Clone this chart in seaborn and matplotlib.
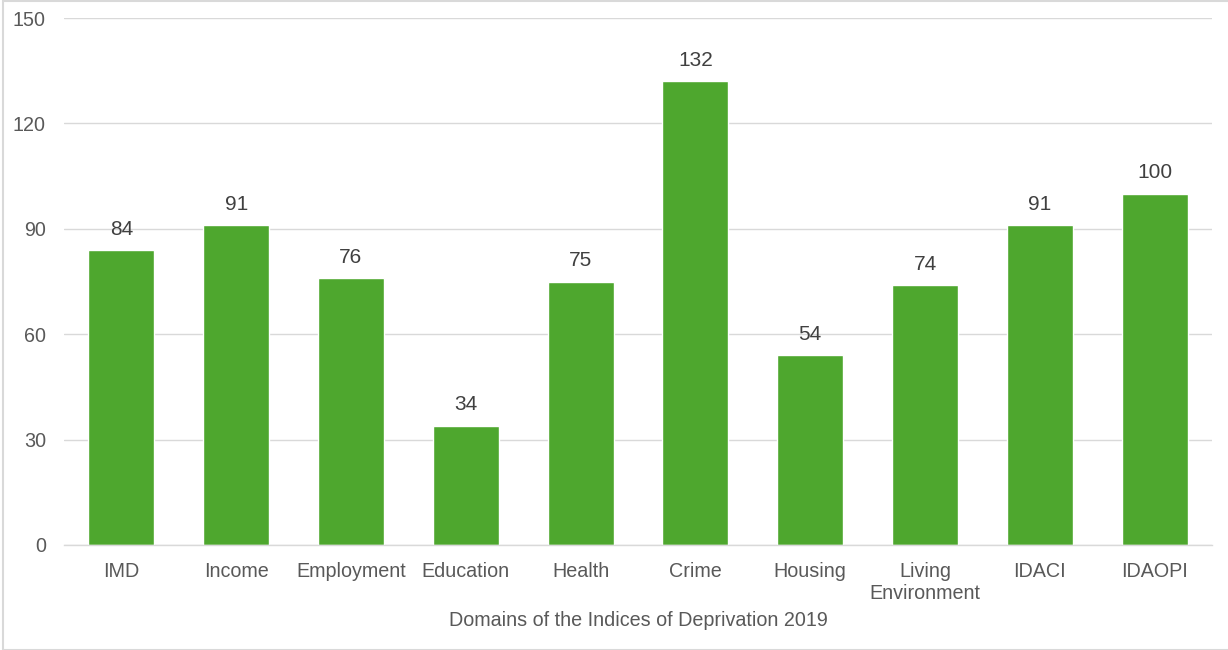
import matplotlib
matplotlib.use("Agg")
import matplotlib.pyplot as plt
import pandas as pd
import seaborn as sb

# Domains of deprivation, count per domain
domains = ["IMD", "Income", "Employment", "Education", "Health",
           "Crime", "Housing", "Living\nEnvironment", "IDACI", "IDAOPI"]
counts = [84, 91, 76, 34, 75, 132, 54, 74, 91, 100]
yticks = [0, 30, 60, 90, 120, 150]

df = pd.DataFrame({"domain": domains, "count": counts})

sb.set_style("white")
plt.rcParams["font.family"] = ["Liberation Sans", "DejaVu Sans"]

fig = plt.figure(figsize=(12.28, 6.5), dpi=100)
ax = fig.add_axes([64 / 1228, 1 - 545 / 650, (1212 - 64) / 1228, (545 - 18) / 650])

sb.barplot(data=df, x="domain", y="count", color="#4EA72E", saturation=1,
           width=0.575, ax=ax)

for i, v in enumerate(counts):
    ax.text(i, v + 3.2, str(v), ha="center", va="bottom",
            fontsize=15, color="#404040")

ax.set_ylim(0, 150)
ax.set_yticks(yticks)
ax.set_xlim(-0.5, len(domains) - 0.5)
ax.yaxis.grid(True, color="#D9D9D9", linewidth=1)
ax.set_axisbelow(True)
for s in ["top", "right", "left"]:
    ax.spines[s].set_visible(False)
ax.spines["bottom"].set_color("#D9D9D9")
ax.spines["bottom"].set_linewidth(1)
ax.tick_params(axis="both", length=0, labelsize=14.2, labelcolor="#595959")
ax.tick_params(axis="y", pad=13)
ax.tick_params(axis="x", pad=12)
ax.set_ylabel("")
ax.set_xlabel("Domains of the Indices of Deprivation 2019", fontsize=14.2,
              color="#595959", labelpad=6)

# light frame round the chart
fig.patches.append(plt.Rectangle((3 / 1228, 0), 1.2, 1 - 1 / 650,
                                 transform=fig.transFigure, fill=False,
                                 edgecolor="#D9D9D9", linewidth=1.5))

plt.savefig("out.png", dpi=100)
